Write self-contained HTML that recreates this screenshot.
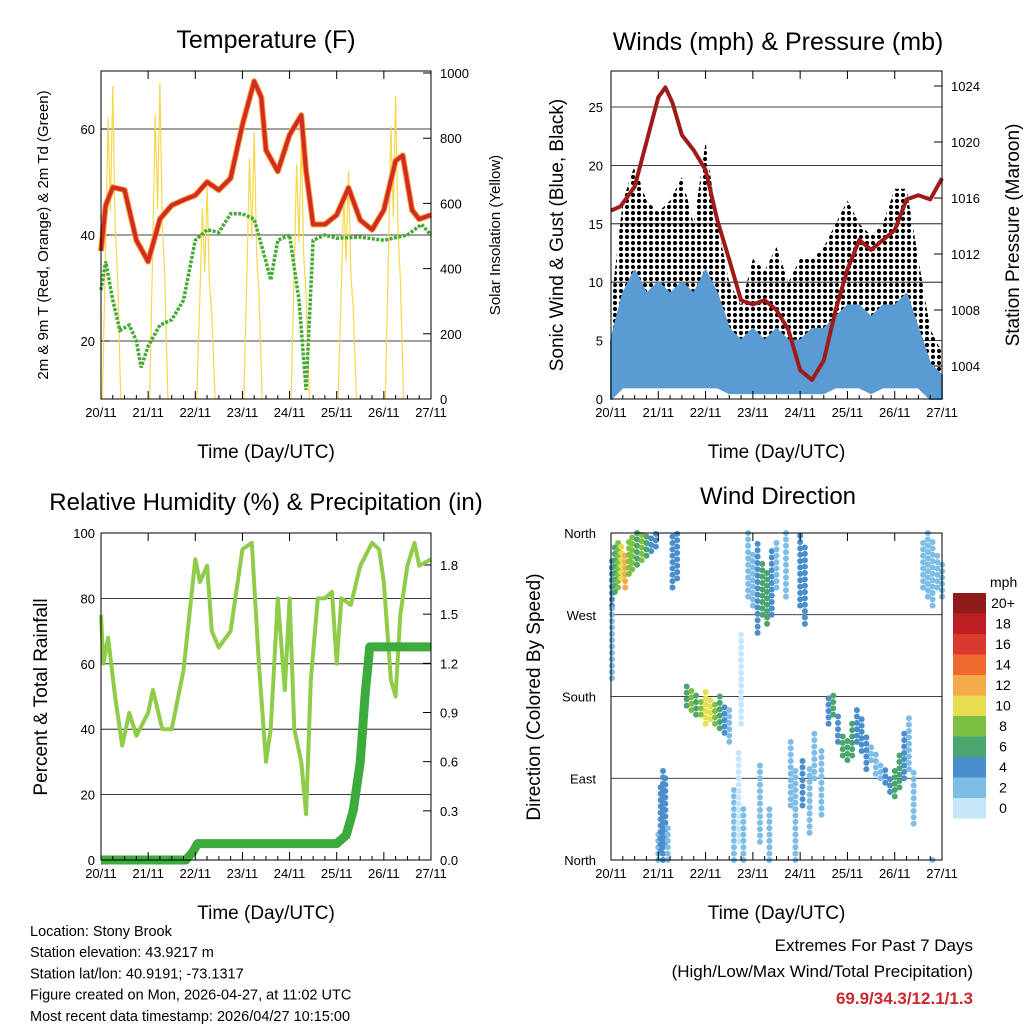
<!DOCTYPE html>
<html><head><meta charset="utf-8"><style>
html,body{margin:0;padding:0;background:#fff;}
svg{display:block;font-family:"Liberation Sans",sans-serif;}
</style></head><body>
<svg id="c" width="1024" height="1024" viewBox="0 0 1024 1024">
<defs><pattern id="dots" width="6" height="6" patternUnits="userSpaceOnUse"><circle cx="3" cy="3" r="2.1" fill="#000"/></pattern></defs>
</svg>
<script>
// ---------- DATA ----------
const days=["20/11","21/11","22/11","23/11","24/11","25/11","26/11","27/11"];
const tempTimes=[0,0.1,0.25,0.5,0.75,1.0,1.25,1.5,1.75,2.0,2.25,2.5,2.75,3.0,3.25,3.4,3.5,3.75,4.0,4.25,4.35,4.5,4.75,5.0,5.25,5.5,5.75,6.0,6.25,6.4,6.6,6.75,7.0];
const tempVals=[37,45.6,49,48.5,39,35,43,45.6,46.6,47.5,50,48.5,50.7,60.8,69,66,56,52,58.9,62.6,52,42,42,43.8,48.9,42.8,41,44.7,54,55,44.7,43,43.8];
const dewTimes=[0,0.1,0.25,0.4,0.6,0.75,0.85,1.0,1.25,1.5,1.75,2.0,2.25,2.5,2.75,3.0,3.25,3.5,3.6,3.75,4.0,4.2,4.35,4.5,4.75,5.0,5.5,6.0,6.5,6.8,7.0];
const dewVals=[29.6,35,27.7,22,23,20,15,19,23,24,27.7,39,41,40.5,44,44,43,35,31.5,39,40,27.7,10.8,39,40,39.4,39.6,39,40,42,40];
const solarPeaks=[960,970,650,820,800,700,930];
const tempLeftTicks=[20,40,60];
const solarTicks=[0,200,400,600,800,1000];

const windTimes=[0,0.25,0.5,0.75,1,1.25,1.5,1.75,2,2.25,2.5,2.75,3,3.25,3.5,3.75,4,4.25,4.5,4.75,5,5.25,5.5,5.75,6,6.25,6.5,6.75,7];
const windLo=[0,1,1,1,1,1,1,1,1,1,0.5,0.5,0.5,0.5,0.5,0.5,0.5,0.5,0.5,1,1,1,0.5,1,1,1,1,0,0];
const windHi=[5,9,11,9,10,9,10,9,11,9,6,5,6,5,6,5,5,6,6,7,8,8,7,8,8,9,6,3,2];
const gustLo=[0,8,9,8,8,8,9,8,10,5,3,2,4,3,4,3,3,3,4,5,6,5,5,5,6,6,3,0,0];
const gustHi=[8,17,20,17,16,17,19,15,22,15,10,8,12,11,13,10,12,12,13,15,17,15,14,15,18,18,12,6,4];
const presTimes=[0,0.2,0.5,0.75,1.0,1.15,1.3,1.5,1.75,2.0,2.25,2.5,2.75,3.0,3.25,3.5,3.75,4.0,4.25,4.5,4.75,5.0,5.25,5.5,5.75,6.0,6.25,6.5,6.75,7.0];
const presVals=[1015.1,1015.4,1016.8,1020.0,1023.2,1023.9,1022.8,1020.5,1019.4,1018,1014.4,1011.6,1008.7,1008.4,1008.7,1008,1006.6,1003.7,1003,1004.4,1008,1010.9,1013,1012.3,1013,1013.7,1015.9,1016.2,1015.9,1017.4];
const speedTicks=[0,5,10,15,20,25];
const presTicks=[1004,1008,1012,1016,1020,1024];

const rhTimes=[0,0.05,0.15,0.3,0.45,0.6,0.75,1.0,1.1,1.3,1.5,1.75,2.0,2.1,2.25,2.35,2.5,2.75,3.0,3.2,3.35,3.5,3.6,3.75,3.9,4.0,4.1,4.25,4.35,4.45,4.6,4.75,4.9,5.0,5.1,5.3,5.5,5.75,5.9,6.0,6.15,6.25,6.35,6.5,6.65,6.75,7.0];
const rhVals=[75,60,68,50,35,45,38,45,52,40,40,58,92,85,90,70,65,70,95,97,60,30,40,80,52,80,40,30,14,55,80,80,82,60,80,78,90,97,95,85,55,50,75,90,97,90,92];
const precTimes=[0,1.8,1.95,2.05,5.0,5.2,5.35,5.5,5.6,5.7,7.0];
const precVals=[0,0,0.05,0.1,0.1,0.15,0.3,0.6,1.0,1.3,1.3];
const rhTicks=[0,20,40,60,80,100];
const precTicks=["0.0","0.3","0.6","0.9","1.2","1.5","1.8"];

const dirTimes=[0.02,0.02,0.08,0.15,0.22,0.3,0.38,0.45,0.55,0.65,0.75,0.85,0.95,1.0,1.05,1.1,1.15,1.2,1.3,1.4,1.6,1.7,1.8,1.9,2.0,2.1,2.2,2.3,2.4,2.5,2.6,2.7,2.75,2.8,2.9,3.0,3.1,3.15,3.2,3.3,3.35,3.4,3.5,3.7,3.8,3.9,4.0,4.05,4.1,4.2,4.3,4.45,4.6,4.7,4.8,4.9,5.0,5.1,5.2,5.3,5.4,5.5,5.6,5.7,5.8,5.9,6.0,6.1,6.2,6.3,6.4,6.6,6.7,6.8,6.8,6.9,7.0];
const dirLo=[280,200,295,300,310,300,315,320,325,330,335,340,345,0,10,0,20,0,300,310,170,165,160,160,150,155,150,145,140,130,0,20,150,0,290,280,250,20,270,260,0,270,300,290,60,0,280,60,260,30,90,50,150,160,130,115,110,115,130,120,100,110,95,90,85,75,70,80,90,100,40,300,290,280,0,300,290];
const dirHi=[330,280,345,350,345,340,350,355,360,358,360,360,360,30,80,100,90,40,360,360,195,190,185,180,185,180,175,185,170,170,80,120,250,60,360,340,350,110,330,320,60,340,350,360,130,100,360,110,350,100,140,120,180,185,160,140,135,150,165,160,140,130,120,110,100,95,100,120,140,160,100,350,360,350,5,340,330];
const dirSpeed=[4,2,6,8,10,12,9,8,6,8,6,5,4,3,4,4,4,3,4,4,6,8,7,8,10,10,8,6,4,3,2,1,1,2,2,3,5,2,7,6,2,4,3,3,3,2,4,4,5,3,2,2,4,6,5,6,7,6,5,4,4,3,3,3,4,5,6,6,4,3,2,2,2,3,2,2,2];
const dirTicks=["North","East","South","West","North"];
const speedLegend=["0","2","4","6","8","10","12","14","16","18","20+"];
const speedColors=["#c6e7f9","#7dbde6","#4a8fcc","#4aa56f","#7cc144","#e6de50","#f5aa48","#ef6a2e","#d83a2e","#bd1e24","#8e1a1a"];

// ---------- AXES ----------
const xT=d=>101+d*47.14, yT=t=>341-(t-20)*5.3, ySol=s=>399-s*0.326;
const xW=d=>611+d*47.29, ySp=v=>399-v*11.68, yP=p=>86+(1024-p)*14;
const yRH=r=>860-r*3.27, yPr=p=>860-p*163.9;
const yD=deg=>860-deg*0.9083;

const svg=document.getElementById('c');
const NS='http://www.w3.org/2000/svg';
function mk(tag,attrs,parent){const e=document.createElementNS(NS,tag);for(const k in attrs)e.setAttribute(k,attrs[k]);(parent||svg).appendChild(e);return e;}
function txt(x,y,s,size,anchor,extra){const e=mk('text',Object.assign({x:x,y:y,'font-size':size,'text-anchor':anchor||'middle',fill:'#000'},extra||{}));e.textContent=s;return e;}
function pts(ts,vs,fx,fy){return ts.map((t,i)=>fx(t).toFixed(1)+','+fy(vs[i]).toFixed(1)).join(' ');}

function frame(x0,y0,x1,y1,xf,name){
  const g=mk('g',{});
  
  
  mk('rect',{x:x0,y:y0,width:x1-x0,height:y1-y0,fill:'none',stroke:'#000','stroke-width':1},g);
  days.forEach((d,i)=>{const x=xf(i);
    mk('line',{x1:x,x2:x,y1:y1,y2:y1-8,stroke:'#000'},g);
    mk('line',{x1:x,x2:x,y1:y0,y2:y0+8,stroke:'#000'},g);
    const t=txt(x,y1+18,d,13,'middle');
    
    
  });
  for(let i=0;i<7;i++)for(let h=1;h<4;h++){const x=xf(i+h/4);mk('line',{x1:x,x2:x,y1:y1,y2:y1-4,stroke:'#000'},g);}
  const xl=txt((x0+x1)/2,y1+59,'Time (Day/UTC)',19,'middle');
  
  
}
function hgrid(x0,x1,y){mk('line',{x1:x0,x2:x1,y1:y,y2:y,stroke:'#000','stroke-width':0.8});}
function rot(x,y,s,size,name){const t=txt(x,y,s,size,'middle',{transform:'rotate(-90 '+x+' '+y+')'});
  
  }

// ===== Panel 1 Temperature =====
let t1=txt(266,48,'Temperature (F)',25);


tempLeftTicks.forEach(v=>{hgrid(101,431,yT(v));txt(95,yT(v)+5,String(v),13,'end');mk('line',{x1:101,x2:109,y1:yT(v),y2:yT(v),stroke:'#000'});});
solarTicks.forEach(v=>{txt(440,ySol(v)+5,String(v),13,'start');mk('line',{x1:423,x2:431,y1:ySol(v),y2:ySol(v),stroke:'#000'});});
solarPeaks.forEach((p,i)=>{
  const ts=[i+0.03,i+0.1,i+0.15,i+0.2,i+0.25,i+0.3,i+0.35,i+0.42];
  const vs=[0,p*0.5,p*0.9,p*0.6,p,p*0.55,p*0.4,0];
  const e=mk('polyline',{points:pts(ts,vs,xT,ySol),fill:'none',stroke:'#f7d84a','stroke-width':1.2});
  
  
});
let e1=mk('polyline',{points:pts(tempTimes,tempVals,xT,yT),fill:'none',stroke:'#f0a030','stroke-width':6,'stroke-linejoin':'round'});


let e2=mk('polyline',{points:pts(tempTimes,tempVals,xT,yT),fill:'none',stroke:'#d42a26','stroke-width':4,'stroke-linejoin':'round'});


let e3=mk('polyline',{points:pts(dewTimes,dewVals,xT,yT),fill:'none',stroke:'#44aa33','stroke-width':3.5,'stroke-dasharray':'3 1.5'});


frame(101,71,431,399,xT,'temperature');
rot(48,235,'2m & 9m T (Red, Orange) & 2m Td (Green)',15,'temperature-y-axis-title');
rot(500,235,'Solar Insolation (Yellow)',15,'solar-y-axis-title');

// ===== Panel 2 Winds =====
let t2=txt(778,50,'Winds (mph) & Pressure (mb)',25);


speedTicks.forEach(v=>{if(v>0)hgrid(611,942,ySp(v));txt(603,ySp(v)+5,String(v),13,'end');});
presTicks.forEach(v=>{txt(951,yP(v)+5,String(v),13,'start');mk('line',{x1:934,x2:942,y1:yP(v),y2:yP(v),stroke:'#000'});});
let gp=windTimes.map((t,i)=>xW(t)+','+ySp(gustHi[i])).concat(windTimes.slice().reverse().map((t,j)=>{const i=windTimes.length-1-j;return xW(t)+','+ySp(gustLo[i]);})).join(' ');
let g1=mk('polygon',{points:gp,fill:'url(#dots)',stroke:'none'});


let wp=windTimes.map((t,i)=>xW(t)+','+ySp(windHi[i])).concat(windTimes.slice().reverse().map((t,j)=>{const i=windTimes.length-1-j;return xW(t)+','+ySp(windLo[i]);})).join(' ');
let w1=mk('polygon',{points:wp,fill:'#5a9bd4',stroke:'#5a9bd4','stroke-width':2,'stroke-linejoin':'round'});


let p1=mk('polyline',{points:pts(presTimes,presVals,xW,yP),fill:'none',stroke:'#a01a1a','stroke-width':4,'stroke-linejoin':'round'});


frame(611,71,942,399,xW,'winds');
rot(563,235,'Sonic Wind & Gust (Blue, Black)',19,'wind-y-axis-title');
rot(1019,235,'Station Pressure (Maroon)',19,'pressure-y-axis-title');

// ===== Panel 3 RH =====
let t3=txt(266,510,'Relative Humidity (%) & Precipitation (in)',24);


rhTicks.forEach(v=>{if(v>0&&v<100)hgrid(101,431,yRH(v));txt(95,yRH(v)+5,String(v),13,'end');});
precTicks.forEach(v=>{txt(440,yPr(+v)+5,v,13,'start');mk('line',{x1:423,x2:431,y1:yPr(+v),y2:yPr(+v),stroke:'#000'});});
let r1=mk('polyline',{points:pts(rhTimes,rhVals,xT,yRH),fill:'none',stroke:'#8fcc4a','stroke-width':4,'stroke-linejoin':'round'});


let r2=mk('polyline',{points:pts(precTimes,precVals,xT,yPr),fill:'none',stroke:'#3daa3d','stroke-width':9,'stroke-linejoin':'round'});


frame(101,533,431,860,xT,'humidity');
rot(47,697,'Percent & Total Rainfall',19,'humidity-y-axis-title');

// ===== Panel 4 Wind direction =====
let t4=txt(778,504,'Wind Direction',24);


dirTicks.forEach((s,i)=>{const y=yD(i*90);if(i>0&&i<4)hgrid(611,942,y);txt(596,y+5,s,13,'end');});
dirTimes.forEach((t,i)=>{
  const c=speedColors[Math.min(10,Math.floor(dirSpeed[i]/2))];
  for(let d=dirLo[i];d<=dirHi[i];d+=7){
    const e=mk('circle',{cx:xW(t),cy:yD(d),r:3,fill:c});
    
    
  }
});
frame(611,533,942,860,xW,'wind-direction');
rot(540,697,'Direction (Colored By Speed)',19,'direction-y-axis-title');
let lt=txt(990,587,'mph',14,'start');


speedLegend.forEach((s,i)=>{
  const y=798-i*20.5;
  const r=mk('rect',{x:953,y:y,width:33,height:20.5,fill:speedColors[i]});
  
  
  const t=txt(1003,y+15,s,14,'middle');
  
  
});

// ===== Footer =====
["Location: Stony Brook","Station elevation: 43.9217 m","Station lat/lon: 40.9191; -73.1317","Figure created on Mon, 2026-04-27, at 11:02 UTC","Most recent data timestamp: 2026/04/27 10:15:00"].forEach((s,i)=>{
  const t=txt(30,936+i*21.2,s,14.5,'start');
  
  
});
let f1=txt(973,951,'Extremes For Past 7 Days',17,'end');


let f2=txt(973,977,'(High/Low/Max Wind/Total Precipitation)',17,'end');


let f3=txt(973,1004,'69.9/34.3/12.1/1.3',17,'end',{fill:'#c8282e','font-weight':'bold'});


</script>
</body></html>
